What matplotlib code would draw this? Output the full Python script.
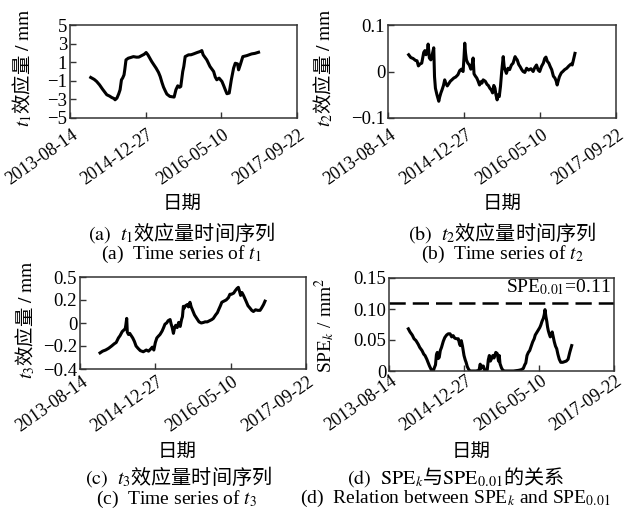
import numpy as np
import matplotlib
matplotlib.use('Agg')
import matplotlib.pyplot as plt
from matplotlib.transforms import ScaledTranslation

plt.rcParams['font.family'] = ['Liberation Serif', 'Noto Sans CJK SC']
plt.rcParams['mathtext.fontset'] = 'stix'
CJK = 'Noto Sans CJK SC'

start = np.datetime64('2013-08-14')
tick_labels = ['2013-08-14', '2014-12-27', '2016-05-10', '2017-09-22']

# days after 2013-08-14
t1_day = [137, 160, 176, 195, 215, 243, 262, 276, 290, 298, 310, 322, 331, 340, 348, 357,
          362, 370, 385, 400, 419, 440, 455, 470, 490, 503, 515, 540, 555, 569, 585, 596,
          608, 618, 630, 640, 660, 688, 700, 712, 724, 732, 745, 752, 761, 783, 800, 816,
          840, 860, 871, 880, 904, 925, 949, 960, 970, 985, 1004, 1015, 1026, 1037, 1052,
          1066, 1081, 1092, 1107, 1114, 1125, 1142, 1169, 1200, 1222, 1246]
t1_val = [-0.64, -0.85, -1.07, -1.43, -1.9, -2.5, -2.65, -2.8, -2.9, -3.04, -2.86, -2.4,
          -1.96, -0.9, -0.7, -0.36, 0.2, 1.25, 1.43, 1.5, 1.6, 1.54, 1.55, 1.68, 1.85, 2.04,
          1.79, 1.07, 0.7, 0.36, -0.1, -0.54, -1.2, -1.68, -2.1, -2.43, -2.68, -2.75, -1.96,
          -1.54, -1.7, -1.61, 0.0, 0.54, 1.6, 1.79, 1.8, 1.89, 2.04, 2.15, 2.25, 1.79, 1.25,
          0.54, 0.0, -0.6, -0.89, -0.71, -1.07, -1.5, -1.96, -2.39, -2.32, -0.89, 0.36, 0.89,
          0.82, 0.18, 0.71, 1.6, 1.71, 1.89, 1.95, 2.07]

t2_day = [136, 150, 165, 180, 191, 200, 210, 222, 235, 243, 250, 258, 264, 268, 272, 282,
          290, 301, 306, 312, 322, 334, 340, 348, 356, 365, 373, 380, 390, 400, 410, 420,
          433, 445, 460, 472, 483, 494, 500, 505, 510, 516, 525, 535, 545, 552, 560, 566,
          575, 584, 592, 602, 610, 618, 626, 640, 652, 660, 670, 680, 688, 696, 704, 710,
          718, 725, 732, 740, 748, 758, 764, 770, 779, 790, 800, 812, 823, 836, 843, 850,
          860, 870, 880, 889, 900, 912, 925, 940, 955, 965, 977, 988, 998, 1010, 1022, 1031,
          1039, 1048, 1058, 1068, 1077, 1088, 1098, 1106, 1113, 1120, 1128, 1140, 1150,
          1162, 1176, 1190, 1204, 1212, 1220, 1230]
t2_val = [0.036, 0.030, 0.028, 0.024, 0.023, 0.012, 0.016, 0.018, 0.041, 0.045, 0.036,
          0.040, 0.059, 0.045, 0.029, 0.025, 0.035, 0.051, -0.011, -0.036, -0.050, -0.064,
          -0.055, -0.046, -0.039, -0.030, -0.018, -0.025, -0.031, -0.026, -0.021, -0.018,
          -0.014, -0.012, -0.007, 0.002, 0.005, 0.0, 0.030, 0.061, 0.040, 0.025, 0.018,
          0.014, 0.005, 0.012, 0.029, -0.005, -0.010, -0.014, -0.020, -0.029, -0.022,
          -0.025, -0.018, -0.021, -0.028, -0.030, -0.036, -0.040, -0.046, -0.030, -0.036,
          -0.050, -0.061, -0.050, -0.054, -0.032, 0.0, 0.032, 0.011, 0.004, -0.004, 0.007,
          0.004, 0.014, 0.018, 0.032, 0.028, 0.025, 0.015, 0.010, 0.004, 0.0, -0.002,
          0.007, 0.003, 0.006, 0.0, 0.008, 0.014, 0.003, 0.0, 0.011, 0.018, 0.028, 0.031,
          0.022, 0.018, 0.010, 0.004, -0.010, -0.014, -0.020, -0.029, -0.020, -0.011,
          -0.003, 0.0, 0.004, 0.007, 0.012, 0.016, 0.014, 0.025, 0.039]

t3_day = [133, 150, 170, 190, 210, 228, 240, 255, 266, 280, 292, 300, 304, 310, 314, 322,
          330, 340, 350, 361, 372, 385, 400, 420, 440, 455, 470, 480, 490, 500, 510, 520,
          531, 545, 555, 564, 575, 585, 598, 605, 612, 620, 628, 635, 645, 655, 665, 674,
          680, 686, 692, 700, 712, 720, 725, 730, 738, 746, 760, 775, 790, 805, 820, 830,
          845, 860, 875, 885, 900, 912, 920, 932, 941, 955, 970, 985, 995, 1005, 1020, 1030,
          1042, 1051, 1058, 1066, 1075, 1085, 1102, 1115, 1128, 1140, 1151, 1165, 1180,
          1195, 1205, 1218, 1228]
t3_val = [-0.26, -0.245, -0.235, -0.22, -0.20, -0.18, -0.17, -0.13, -0.11, -0.075, -0.06,
          -0.05, -0.02, 0.04, -0.08, -0.10, -0.09, -0.11, -0.13, -0.16, -0.20, -0.22, -0.24,
          -0.25, -0.235, -0.245, -0.225, -0.21, -0.235, -0.17, -0.13, -0.115, -0.10, -0.07,
          -0.04, -0.01, 0.0, 0.02, 0.03, -0.01, -0.04, -0.09, -0.04, -0.02, -0.04, 0.005,
          -0.03, 0.03, 0.055, 0.145, 0.13, 0.15, 0.16, 0.14, 0.165, 0.18, 0.14, 0.115, 0.07,
          0.04, 0.01, 0.0, 0.005, 0.01, 0.01, 0.02, 0.03, 0.04, 0.07, 0.09, 0.115, 0.15,
          0.18, 0.19, 0.20, 0.22, 0.25, 0.25, 0.26, 0.28, 0.30, 0.31, 0.28, 0.24, 0.265,
          0.24, 0.19, 0.15, 0.13, 0.11, 0.10, 0.115, 0.11, 0.11, 0.13, 0.16, 0.19]

spe_day = [129, 140, 155, 167, 180, 195, 205, 220, 232, 240, 252, 260, 270, 280, 287, 295,
           302, 310, 316, 322, 328, 335, 342, 350, 362, 372, 384, 395, 407, 418, 428, 438,
           450, 462, 470, 475, 482, 490, 500, 508, 514, 522, 530, 540, 560, 580, 600, 608,
           614, 620, 629, 640, 655, 662, 669, 676, 684, 692, 700, 712, 722, 730, 735, 740,
           750, 762, 773, 800, 830, 862, 880, 895, 905, 912, 920, 929, 938, 948, 958, 968,
           975, 985, 995, 1005, 1012, 1020, 1029, 1035, 1040, 1046, 1052, 1057, 1062, 1068,
           1075, 1082, 1088, 1095, 1102, 1110, 1118, 1126, 1135, 1145, 1158, 1170, 1182,
           1194, 1205, 1212, 1218]
spe_val = [0.068, 0.063, 0.058, 0.052, 0.049, 0.043, 0.038, 0.033, 0.027, 0.025, 0.019,
           0.014, 0.008, 0.003, 0.0, 0.0, 0.005, 0.010, 0.026, 0.030, 0.020, 0.022, 0.033,
           0.038, 0.048, 0.054, 0.058, 0.060, 0.060, 0.055, 0.057, 0.053, 0.052, 0.052,
           0.044, 0.041, 0.049, 0.040, 0.025, 0.018, 0.014, 0.007, 0.003, 0.0, 0.0, 0.0,
           0.001, 0.011, 0.004, 0.008, 0.008, 0.0, 0.002, 0.018, 0.025, 0.016, 0.020, 0.025,
           0.021, 0.030, 0.028, 0.016, 0.025, 0.012, 0.005, 0.0, 0.0, 0.0, 0.0, 0.001, 0.002,
           0.004, 0.010, 0.013, 0.025, 0.030, 0.033, 0.040, 0.047, 0.052, 0.058, 0.062,
           0.066, 0.070, 0.074, 0.080, 0.085, 0.091, 0.099, 0.088, 0.080, 0.071, 0.065,
           0.060, 0.055, 0.058, 0.063, 0.055, 0.047, 0.040, 0.036, 0.027, 0.019, 0.014,
           0.014, 0.015, 0.016, 0.019, 0.030, 0.036, 0.041]
spe_limit = 0.11

fig = plt.figure(figsize=(6.26, 5.19), dpi=100)
W, H = 626, 519


def px_axes(x0, y0, x1, y1):
    return fig.add_axes([x0 / W, 1 - y1 / H, (x1 - x0) / W, (y1 - y0) / H])


panels = [
    (px_axes(70, 25, 297, 118), t1_day, t1_val, (-5, 5), [-5, -3, -1, 1, 3, 5],
     ['−5', '−3', '−1', '1', '3', '5']),
    (px_axes(388, 25, 616, 118), t2_day, t2_val, (-0.1, 0.1), [-0.1, 0, 0.1],
     ['−0.1', '0', '0.1']),
    (px_axes(80, 277, 306, 369), t3_day, t3_val, (-0.4, 0.4), [-0.4, -0.2, 0, 0.2, 0.4],
     ['−0.4', '−0.2', '0', '0.2', '0.5']),
    (px_axes(389, 278, 614, 371), spe_day, spe_val, (0, 0.15), [0, 0.05, 0.10, 0.15],
     ['0', '0.05', '0.10', '0.15']),
]
# Latin parts go in math mode (STIX serif); Chinese parts use the CJK font
ylabels = [(r'$t_1$效应量$\ /\ \mathrm{mm}$', CJK), (r'$t_2$效应量$\ /\ \mathrm{mm}$', CJK),
           (r'$t_3$效应量$\ /\ \mathrm{mm}$', CJK), (r'SPE$_k$ / mm$^2$', 'Liberation Serif')]
ylab_x = [22, 323, 25, 325]
ylab_y = [68, 68, 320, 325]
label_dy = [-6, -6, -2, 1]

tick_dates = np.array(tick_labels, dtype='datetime64[D]')

for (ax, day, val, ylim, yt, ytl), (lab, fam), lx, ly, dy in zip(panels, ylabels, ylab_x,
                                                                  ylab_y, label_dy):
    dates = start + np.array(day, dtype='timedelta64[D]')
    ax.plot(dates, val, color='black', lw=2.2)
    ax.set_xlim(tick_dates[0], tick_dates[-1])
    ax.set_xticks(tick_dates)
    ax.set_ylim(*ylim)
    ax.set_yticks(yt)
    ax.set_yticklabels(ytl)
    ax.tick_params(direction='in', length=4, width=1, colors='#333333', labelcolor='black',
                   labelsize=13.5, pad=2)
    ax.set_xticklabels(tick_labels, rotation=35, ha='right', va='top', rotation_mode='anchor',
                       fontsize=13)
    shift = ScaledTranslation(1 / 100, dy / 100, fig.dpi_scale_trans)
    for t in ax.get_xticklabels():
        t.set_transform(t.get_transform() + shift)
    for s in ax.spines.values():
        s.set_color('#333333')
        s.set_linewidth(1.1)
    fig.text(lx / W, 1 - ly / H, lab, rotation=90, ha='center', va='center', fontsize=14,
             family=fam)

ax_d = panels[3][0]
ax_d.axhline(spe_limit, color='black', lw=1.8, dashes=(6.5, 2.8))
ax_d.text(0.985, 0.9, 'SPE$_{0.01}$=%.2f' % spe_limit, transform=ax_d.transAxes,
          ha='right', va='center', fontsize=14)

# x labels and captions
xlab_pos = [(182, 203), (502, 203), (177, 451), (471, 451)]
for x, y in xlab_pos:
    fig.text(x / W, 1 - y / H, '日期', ha='center', va='center', fontsize=14, family=CJK)

captions = [
    (182, 233, r'$(\mathrm{a})\ \ t_1$效应量时间序列', CJK),
    (181, 254, '(a)  Time series of $t_1$', 'Liberation Serif'),
    (502, 233, r'$(\mathrm{b})\ \ t_2$效应量时间序列', CJK),
    (502, 254, '(b)  Time series of $t_2$', 'Liberation Serif'),
    (179, 477, r'$(\mathrm{c})\ \ t_3$效应量时间序列', CJK),
    (176, 499, '(c)  Time series of $t_3$', 'Liberation Serif'),
    (456, 477, r'$(\mathrm{d})\ \ \mathrm{SPE}_k$与$\mathrm{SPE}_{0.01}$的关系', CJK),
    (455, 498, '(d)  Relation between SPE$_k$ and SPE$_{0.01}$', 'Liberation Serif'),
]
for x, y, s, fam in captions:
    fig.text(x / W, 1 - y / H, s, ha='center', va='center', family=fam,
             fontsize=14.5 if fam == CJK else 14)

fig.savefig('out.png', dpi=100)
